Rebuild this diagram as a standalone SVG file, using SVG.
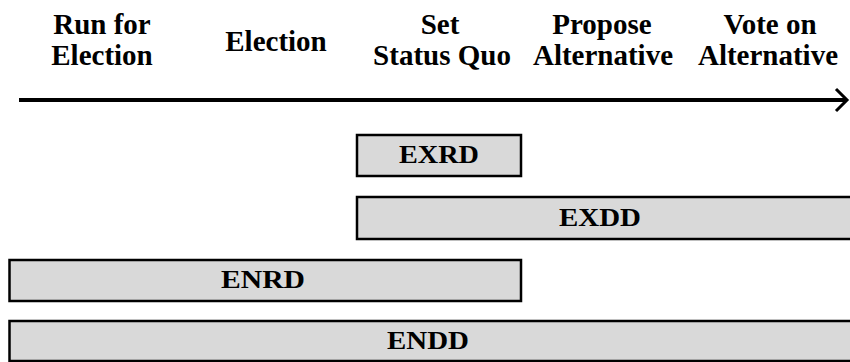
<svg xmlns="http://www.w3.org/2000/svg" width="850" height="362" viewBox="0 0 850 362">
<style>
.hdr{font-family:"Liberation Serif","Times New Roman",serif;font-weight:bold;font-size:29px;fill:#000;text-anchor:middle}
.lbl{font-family:"Liberation Serif","Times New Roman",serif;font-weight:bold;font-size:25px;fill:#000;text-anchor:middle}
.box{fill:#d9d9d9;stroke:#000;stroke-width:2.5}
</style>
<rect width="850" height="362" fill="#fff"/>
<g id="headers">
<text class="hdr" x="102" y="34">Run for</text>
<text class="hdr" x="102" y="65">Election</text>
<text class="hdr" x="276" y="51">Election</text>
<text class="hdr" x="440" y="34">Set</text>
<text class="hdr" x="442" y="65">Status Quo</text>
<text class="hdr" x="602" y="34">Propose</text>
<text class="hdr" x="603" y="65">Alternative</text>
<text class="hdr" x="770" y="34">Vote on</text>
<text class="hdr" x="768" y="65">Alternative</text>
</g>
<g id="connectors">
<line x1="19" y1="100" x2="846" y2="100" stroke="#000" stroke-width="4"/>
<polyline points="836,89 847,100 836,111" fill="none" stroke="#000" stroke-width="3"/>
</g>
<g id="EXRD">
<rect class="box" x="357" y="135" width="164" height="41"/>
<text class="lbl" x="439" y="163" textLength="80" lengthAdjust="spacingAndGlyphs">EXRD</text>
</g>
<g id="EXDD">
<rect class="box" x="357" y="197" width="500" height="42"/>
<text class="lbl" x="600" y="226" textLength="82" lengthAdjust="spacingAndGlyphs">EXDD</text>
</g>
<g id="ENRD">
<rect class="box" x="9.5" y="260" width="511.5" height="41"/>
<text class="lbl" x="263" y="288" textLength="84" lengthAdjust="spacingAndGlyphs">ENRD</text>
</g>
<g id="ENDD">
<rect class="box" x="9.5" y="321" width="850" height="40"/>
<text class="lbl" x="428" y="349" textLength="82" lengthAdjust="spacingAndGlyphs">ENDD</text>
</g>
</svg>
